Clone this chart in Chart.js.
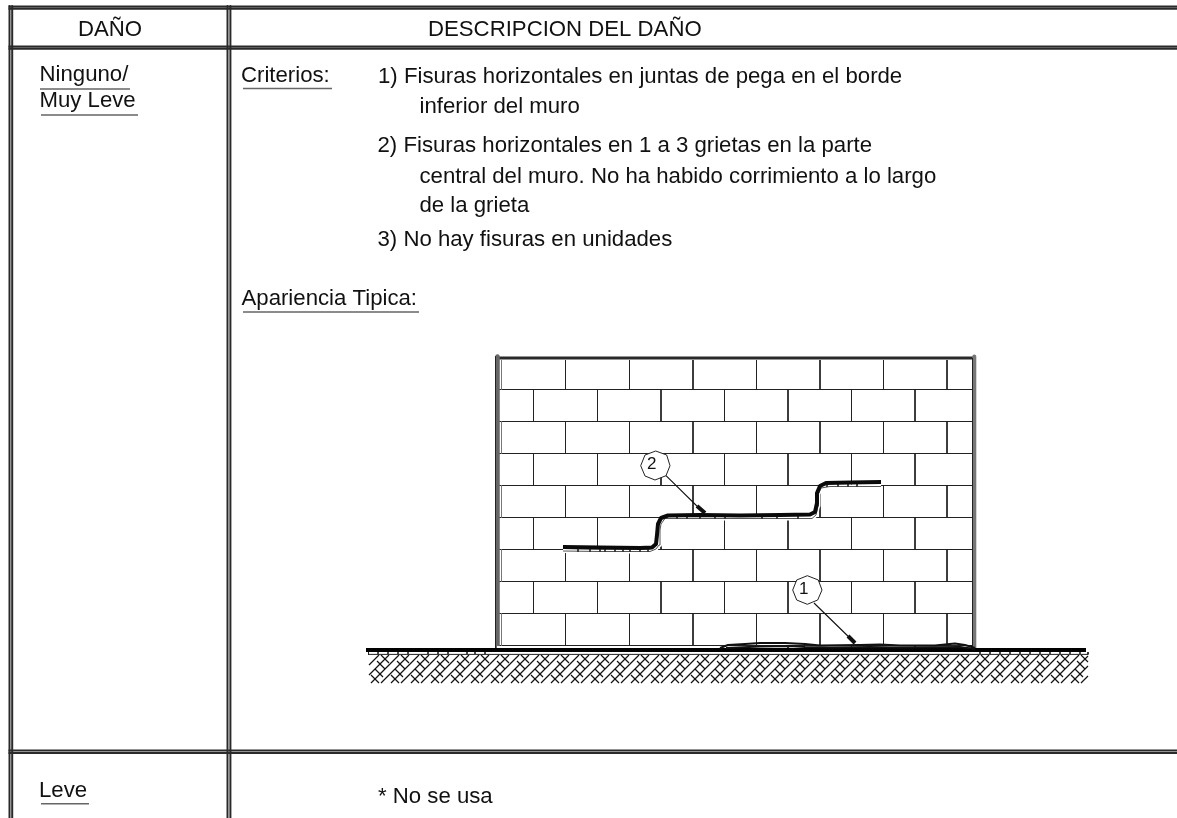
<!DOCTYPE html>
<html><head><meta charset="utf-8">
<style>html,body{margin:0;padding:0;background:#fff}canvas{display:block}</style>
<script src="https://cdn.jsdelivr.net/npm/chart.js@4"></script>
</head><body><canvas id="c" width="1177" height="818"></canvas>
<script>
// ---- table text ----
const textStrings = ["DAÑO","DESCRIPCION DEL DAÑO","Ninguno/","Muy Leve","Criterios:",
 "1) Fisuras horizontales en juntas de pega en el borde","inferior del muro",
 "2) Fisuras horizontales en 1 a 3 grietas en la parte","central del muro. No ha habido corrimiento a lo largo","de la grieta",
 "3) No hay fisuras en unidades","Apariencia Tipica:","Leve","* No se usa"];
const textX = [78,428,39.5,39.5,241,378,419.5,377.5,419.5,419.5,377.5,241.5,39,378];
const textY = [36,36,81,107,81.5,82.5,112.5,151.5,182.5,211.5,246,305,796.5,802.5];
const calloutStrings = ["2","1"];
const calloutX = [647,799];
const calloutY = [469,594];
// ---- table rules ----
const frameRowsY = [6.5,8.7,46.5,48.7,750.5,753];
const frameColsX = [9.5,12.2,227.5,230.4];
const underlineSegs = [[40,130,89],[41,138,115],[243,332,88.5],[243,419,312],[41,89,803.7]];
// ---- wall ----
const wallRowsY = [389.5,421.5,453.5,485.5,517.5,549.5,581.5,613.5,645.5];
const jointsA = [565.5,629.5,693,756.5,820,883.5,947];
const jointsB = [533.5,597.5,661,724.5,788,851.5,915];
const rowTopsA = [360,421.5,485.5,549.5,613.5];
const rowEndsA = [389.5,453.5,517.5,581.5,645.5];
const rowTopsB = [389.5,453.5,517.5,581.5,645.5];
const rowEndsB = [421.5,485.5,549.5,613.5,649];
const crackUpper2 = [[563,547],[600,547.5],[640,548],[652,547.5],[656,544],[657,535],[658,524],[661,518],[668,515.5],[700,515],[740,515.5],[780,515],[810,514.5],[815,512],[817,503],[817,493],[820,486],[826,483],[850,482.5],[881,482]];
const crackLower2 = [[563,551],[600,551.5],[650,551.5],[656,549],[659,545],[660,530],[661,524],[665,518.5],[700,518.5],[780,518.5],[812,518.5],[816,515],[818,506],[818.5,494],[821,488],[830,486.5],[881,486.5]];
const crack1Upper = [[720,648],[728,645],[745,644],[760,643],[785,643],[805,644],[820,645.5],[860,645],[880,644.5],[900,645.5],[935,645.5],[955,643.5],[965,645],[975,648]];
const crack1Lower = [[726,648],[760,646.5],[790,646],[805,647],[830,647.5],[870,647],[900,647.5],[960,647],[975,649]];
const crackTickSegs = [[578,549,552],[590,549,552],[600,549,552],[605,549,552],[615,549,552],[623,549,552],[630,549,552],[640,549,552],[648,549,552],
 [677,516,519],[687,516,519],[700,516,519],[715,516,519],[725,516,519],[762,516,519],[777,516,519],[798,516,519],[827,483,487],[838,483,487],[848,483,487],[857,483,487]];
const octagon2 = [[655.7,451],[666.7,455],[670,465.7],[666,475.7],[655,480],[645,476],[640.7,465.7],[645,455],[655.7,451]];
const octagon1 = [[807.3,575.7],[818.3,580],[822,590],[817.7,600],[807.3,604.3],[796.7,600],[792.7,590],[796.7,580],[807.3,575.7]];
const leaders = [[[666,475.7],[703,512]],[[814,603],[855,643]]];
const arrowHeads = [[[697,506],[705,513]],[[848,636],[855,643]]];
// ---- ground ----
const groundTicks = [378,388,398,408,428,438,448,467,475,485,980,990,1000,1010,1020,1030,1040,1050,1060,1070,1080];
const hatchStarts = [341,351,361,371,381,391,401,411,421,431,441,451,461,471,481,491,501,511,521,531,541,551,561,571,581,591,601,611,621,631,641,651,661,671,681,691,701,711,721,731,741,751,761,771,781,791,801,811,821,831,841,851,861,871,881,891,901,911,921,931,941,951,961,971,981,991,1001,1011,1021,1031,1041,1051,1061,1071,1081];
const hatchDashA = [[0,8],[14,22]];
const hatchDashB = [[6,14],[20,28]];
const hatchLeft = 369, hatchRight = 1088, hatchTop = 655, hatchBottom = 683;

// ---- assemble ----
const GAP = {x:NaN,y:NaN};
const pts = a => a.map(p => ({x:p[0],y:p[1]}));
function segs(list){const o=[];list.forEach(s=>{o.push({x:s[0][0],y:s[0][1]},{x:s[1][0],y:s[1][1]},GAP)});return o;}
function clipDiag(x0,y0,dy,len){ // 45 degree piece running right, clipped to the hatch box
  const a=Math.max(0,hatchLeft-x0), b=Math.min(len,hatchRight-x0);
  if(b<=a) return null;
  return [[x0+a,y0+a*dy],[x0+b,y0+b*dy]];
}
const hatchA=[],hatchB=[];
hatchStarts.forEach((o,i)=>{
  const up=clipDiag(o,hatchBottom,-1,28); if(up) hatchA.push(up);
  (i%2?hatchDashB:hatchDashA).forEach(d=>{
    const s=clipDiag(o+d[0],hatchTop+d[0],1,d[1]-d[0]);
    if(s) hatchB.push(s);
  });
});
const wallH=wallRowsY.map(y=>[[497,y],[975,y]]);
const wallV=[];
rowTopsA.forEach((t,r)=>jointsA.forEach(x=>wallV.push([[x,t],[x,rowEndsA[r]]])));
rowTopsB.forEach((t,r)=>jointsB.forEach(x=>wallV.push([[x,t],[x,rowEndsB[r]]])));
const wallInner=rowTopsA.map((t,r)=>[[501.5,t],[501.5,rowEndsA[r]]]);
const frameH=frameRowsY.map(y=>[[frameColsX[0]-1,y],[1177,y]]);
const frameV=frameColsX.map(x=>[[x,6],[x,818]]);
const unders=underlineSegs.map(u=>[[u[0],u[2]],[u[1],u[2]]]);
const crackT=crackTickSegs.map(t=>[[t[0],t[1]],[t[0],t[2]]]);
const gTicks=groundTicks.map(x=>[[x,652],[x,654]]);

// listed bottom-most first
const layers=[
 {data:segs(wallH),c:'#222',w:1},
 {data:segs(wallV),c:'#222',w:1},
 {data:segs(wallInner),c:'#777',w:1},
 {data:segs([[[497,358],[976,358]]]),c:'#2a2a2a',w:3},
 {data:segs([[[497.5,356.5],[497.5,648]]]),c:'#666',w:4.5},
 {data:segs([[[495.5,356.5],[495.5,648]]]),c:'#222',w:1},
 {data:segs([[[974.3,356.5],[974.3,648]]]),c:'#777',w:4},
 {data:segs([[[972.5,358],[972.5,648]]]),c:'#222',w:1},
 {data:segs(hatchA),c:'#111',w:1.2},
 {data:segs(hatchB),c:'#111',w:1.2},
 {data:segs([[[497,647],[725,647]]]),c:'#fff',w:2},
 {data:segs([[[366,650],[1086,650]]]),c:'#000',w:4},
 {data:segs([[[368,654.4],[1088,654.4]]]),c:'#222',w:1},
 {data:segs([[[368.5,652],[368.5,654.5]],[[1088,652],[1088,654.5]]]),c:'#222',w:1},
 {data:segs(gTicks),c:'#333',w:1},
 {data:pts(crackLower2),c:'#fff',w:4},
 {data:pts(crackLower2),c:'#555',w:1},
 {data:segs(crackT),c:'#333',w:1},
 {data:pts(crackUpper2),c:'#0a0a0a',w:4},
 {data:pts(crack1Upper),c:'#111',w:2},
 {data:pts(crack1Lower),c:'#111',w:2.2},
 {data:pts(octagon2),c:'#222',w:1,fill:true},
 {data:pts(octagon1),c:'#222',w:1,fill:true},
 {data:segs(leaders),c:'#111',w:1.1},
 {data:segs(arrowHeads),c:'#111',w:4},
 {data:segs(frameH),c:'#2a2a2a',w:2},
 {data:segs(frameV),c:'#2a2a2a',w:2},
 {data:segs(unders),c:'#666',w:1.4}
];
const datasets=layers.map((l,i)=>({
  type:'scatter',data:l.data,showLine:true,pointRadius:0,borderColor:l.c,borderWidth:l.w,
  spanGaps:false,tension:0,order:layers.length-i,
  fill:l.fill?'shape':false,backgroundColor:'#fff',borderCapStyle:'butt',borderJoinStyle:'round'
}));
const textPlugin={id:'tableText',afterDatasetsDraw(chart){
  const {ctx,scales:{x,y}}=chart;
  ctx.save();ctx.fillStyle='#111';ctx.textBaseline='alphabetic';ctx.textAlign='left';
  ctx.font='22.2px "Liberation Sans"';
  textStrings.forEach((t,i)=>ctx.fillText(t,x.getPixelForValue(textX[i]),y.getPixelForValue(textY[i])));
  ctx.font='17px "Liberation Sans"';
  calloutStrings.forEach((t,i)=>ctx.fillText(t,x.getPixelForValue(calloutX[i]),y.getPixelForValue(calloutY[i])));
  ctx.restore();
}};
new Chart(document.getElementById('c'),{
  type:'scatter',data:{datasets},plugins:[textPlugin],
  options:{responsive:false,animation:false,events:[],layout:{padding:0},
    plugins:{legend:{display:false},tooltip:{enabled:false},title:{display:false}},
    scales:{x:{type:'linear',min:0,max:1177,display:false},y:{type:'linear',min:0,max:818,reverse:true,display:false}}}
});
</script></body></html>
